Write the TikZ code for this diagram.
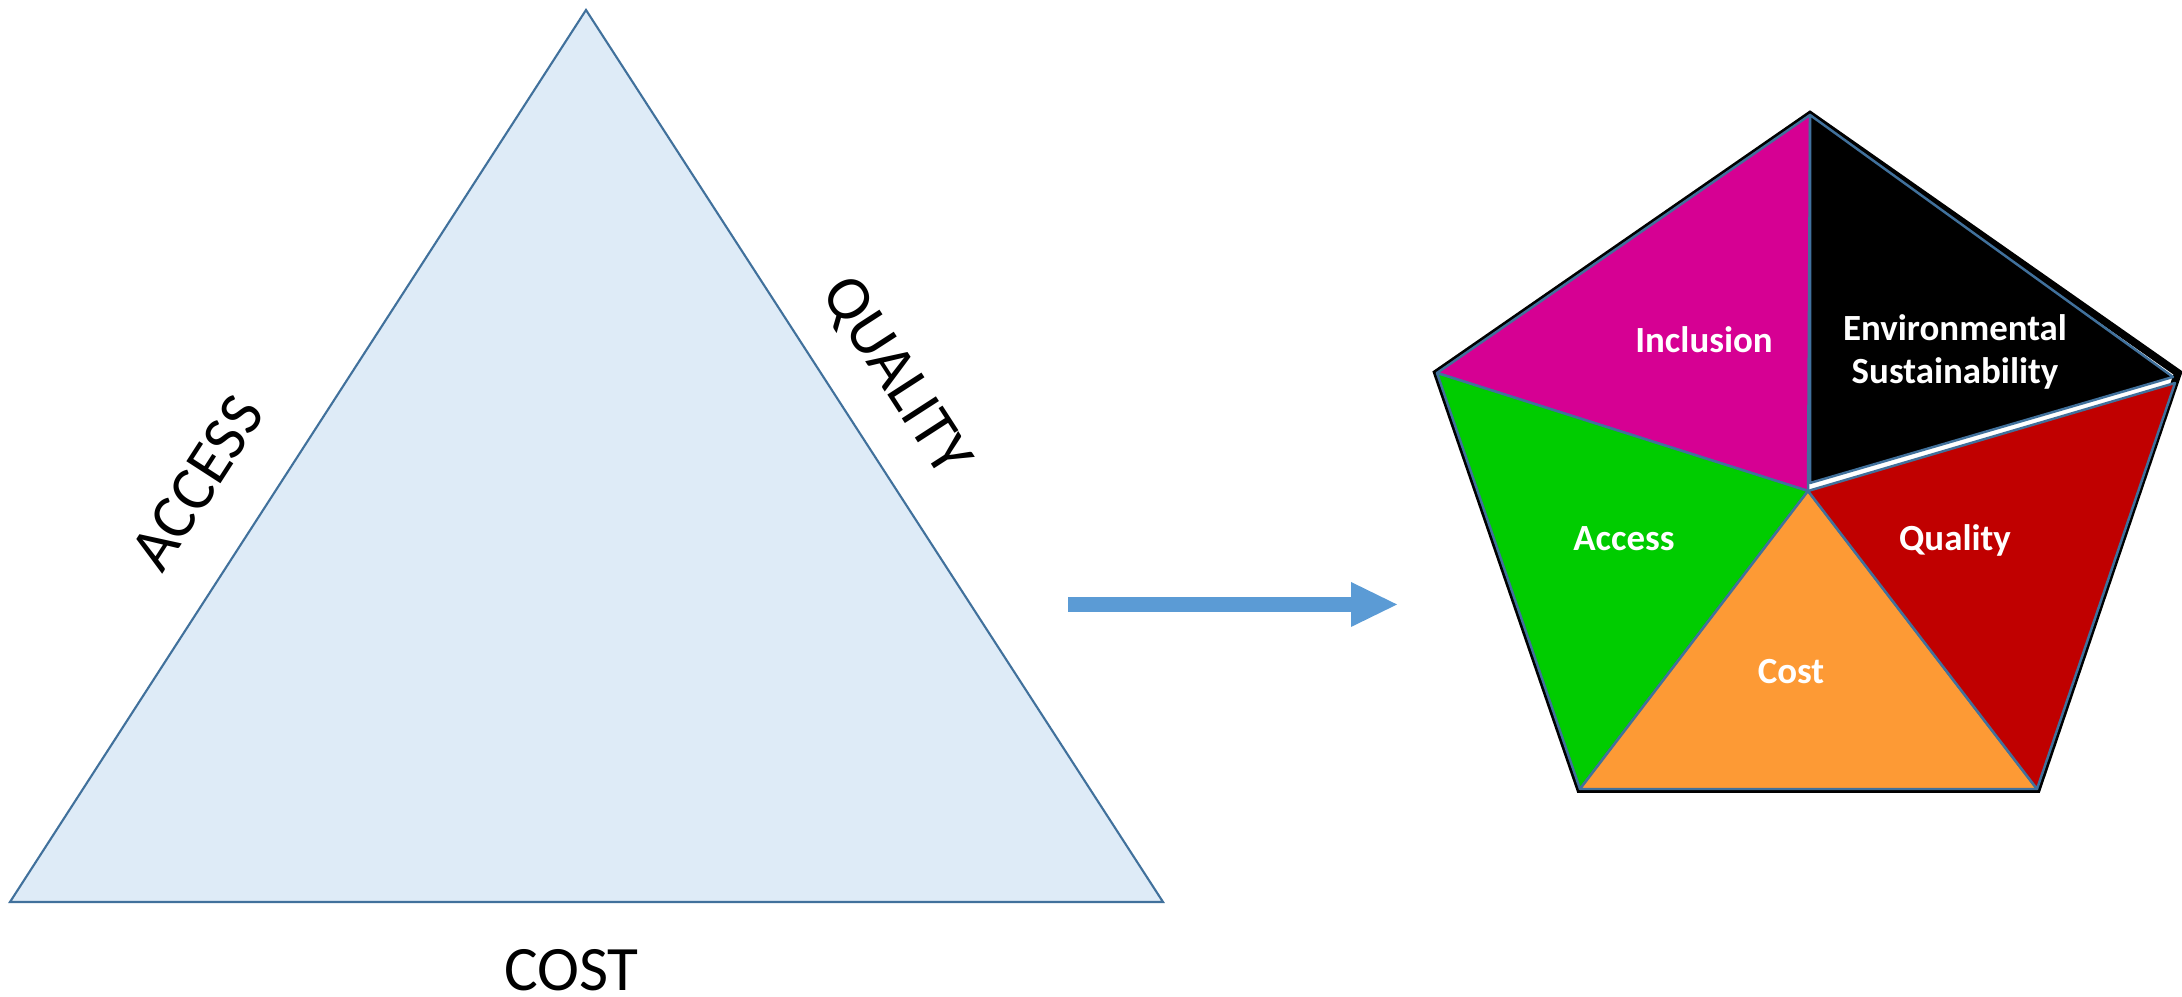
\documentclass[tikz,border=0pt]{standalone}
\usepackage{fontspec}
\setmainfont{Carlito}
\usetikzlibrary{arrows.meta, calc}

\definecolor{triFill}{HTML}{DEEBF7}
\definecolor{triEdge}{HTML}{41719C}
\definecolor{arrBlue}{HTML}{5B9BD5}
\definecolor{incMag}{HTML}{D60093}
\definecolor{accGreen}{HTML}{00CC00}
\definecolor{costOrange}{HTML}{FD9A35}
\definecolor{qualRed}{HTML}{C00000}

\begin{document}
\begin{tikzpicture}[%
        side/.style = {%
            font = \fontsize{18}{21.6}\selectfont,
            inner sep = 0pt
        },
        piece/.style = {%
            draw = triEdge,
            line width = 0.7pt,
            line join = round
        },
        tag/.style = {%
            font = \fontsize{10.5}{12.5}\selectfont\bfseries,
            text = white,
            inner sep = 0pt,
            align = center
        }
    ]
        \useasboundingbox (0, 0) rectangle (21.82, 9.97);

        % Coordinates for the triangle.
        \coordinate (ttop) at (5.86, 9.87);
        \coordinate (tbl) at (0.10, 0.95);
        \coordinate (tbr) at (11.63, 0.95);

        % Coordinates for the pentagon.
        \coordinate (ptop) at (18.10, 8.82);
        \coordinate (pleft) at (14.37, 6.24);
        \coordinate (pright) at (21.78, 6.24);
        \coordinate (pbl) at (15.80, 2.08);
        \coordinate (pbr) at (20.37, 2.08);
        \coordinate (pmid) at (18.08, 5.06);

        % Corners of the black and red pieces, pulled apart a little.
        \coordinate (emid) at (18.10, 5.14);
        \coordinate (eright) at (21.73, 6.20);
        \coordinate (qright) at (21.75, 6.14);

        % The triangle.
        \draw[fill = triFill, draw = triEdge, line width = 0.6pt] (ttop) -- (tbl) -- (tbr) -- cycle;

        % Labels for the sides of the triangle.
        \node[side, rotate = 57.13] (access) at ($(tbl)!0.427!(ttop)!0.70cm!90:(ttop)$) {ACCESS};
        \node[side, rotate = -57.13] (quality) at ($(ttop)!0.448!(tbr)!0.60cm!90:(tbr)$) {QUALITY};
        \node[side, anchor = base] (cost) at ($(tbl)!0.5!(tbr) + (-0.15, -0.89)$) {COST};

        % Arrow between the two shapes.
        \coordinate (astart) at (10.68, 3.925);
        \coordinate (aend) at (13.97, 3.925);
        \draw[arrBlue, line width = 0.15cm, -{Triangle[length = 0.46cm, width = 0.45cm, line width = 0pt]}] (astart) to (aend);

        % Black outline round the pentagon.
        \draw[line width = 2.2pt, line join = miter] (ptop) -- (pright) -- (pbr) -- (pbl) -- (pleft) -- cycle;

        % The five pieces.
        \filldraw[piece, fill = incMag] (ptop) -- (pleft) -- (pmid) -- cycle;
        \filldraw[piece, fill = accGreen] (pleft) -- (pbl) -- (pmid) -- cycle;
        \filldraw[piece, fill = costOrange] (pmid) -- (pbl) -- (pbr) -- cycle;
        \filldraw[piece, fill = qualRed] (pmid) -- (qright) -- (pbr) -- cycle;
        \filldraw[piece, fill = black] (ptop) -- (eright) -- (emid) -- cycle;

        % Label the pieces.
        \node[tag, anchor = base] (inclusion) at (17.04, 6.44) {Inclusion};
        \node[tag] (envsust) at (19.55, 6.45) {Environmental\\Sustainability};
        \node[tag, anchor = base] (accesstag) at (16.24, 4.46) {Access};
        \node[tag, anchor = base] (qualitytag) at (19.55, 4.46) {Quality};
        \node[tag, anchor = base] (costtag) at (17.91, 3.13) {Cost};
    \end{tikzpicture}
\end{document}
